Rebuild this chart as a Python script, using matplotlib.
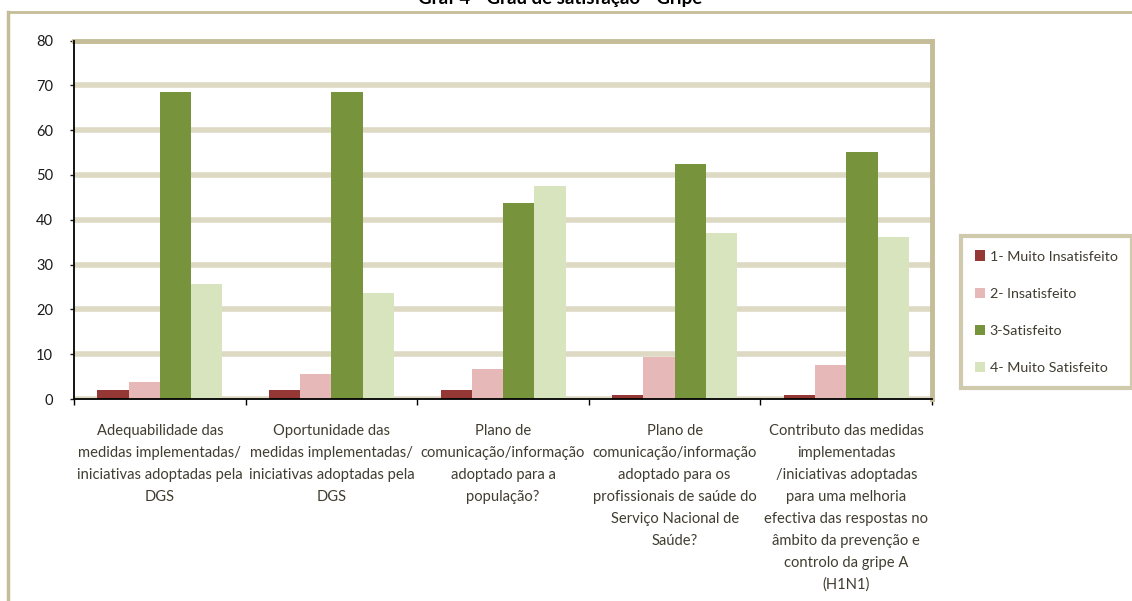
import matplotlib.pyplot as plt
import numpy as np
from matplotlib.lines import Line2D

plt.rcParams['font.family'] = ['Lato', 'DejaVu Sans']

# survey answers (%) per question
categorias = [
    'Adequabilidade das\nmedidas implementadas/\niniciativas adoptadas pela\nDGS',
    'Oportunidade das\nmedidas implementadas/\niniciativas adoptadas pela\nDGS',
    'Plano de\ncomunicação/informação\nadoptado para a\npopulação?',
    'Plano de\ncomunicação/informação\nadoptado para os\nprofissionais de saúde do\nServiço Nacional de\nSaúde?',
    'Contributo das medidas\nimplementadas\n/iniciativas adoptadas\npara uma melhoria\nefectiva das respostas no\nâmbito da prevenção e\ncontrolo da gripe A\n(H1N1)',
]
series = ['1- Muito Insatisfeito', '2- Insatisfeito', '3-Satisfeito', '4- Muito Satisfeito']
muito_insatisfeito = [1.9, 1.9, 1.9, 0.9, 0.9]
insatisfeito = [3.7, 5.6, 6.7, 9.4, 7.6]
satisfeito = [68.5, 68.5, 43.7, 52.4, 55.1]
muito_satisfeito = [25.6, 23.7, 47.5, 37.0, 36.1]
cores = ['#953735', '#e6b9b8', '#77933c', '#d7e4bd']

khaki = '#c4bd97'
grid_col = '#ddd9c3'
txt_col = '#403d30'

fig = plt.figure(figsize=(11.32, 6.01), dpi=100)
ax = fig.add_axes([0.0654, 0.3361, 0.758, 0.5965])

x = np.arange(len(categorias))
w = 0.182
valores = [muito_insatisfeito, insatisfeito, satisfeito, muito_satisfeito]
for i, (vals, nome, cor) in enumerate(zip(valores, series, cores)):
    ax.bar(x + (i - 1.5) * w, vals, w, color=cor, label=nome, zorder=3,
           edgecolor='none')

ax.set_xlim(-0.5, len(categorias) - 0.5)
ax.set_ylim(0, 80)
ax.set_yticks(range(0, 81, 10))
ax.yaxis.grid(True, color=grid_col, linewidth=4.0, zorder=0)
ax.set_axisbelow(True)

# category boundaries as ticks, labels at the centres
ax.set_xticks(np.arange(-0.5, len(categorias), 1))
ax.set_xticklabels([])
ax.tick_params(axis='x', which='major', direction='out', length=4, width=1, color='black')
ax.set_xticks(x, minor=True)
ax.set_xticklabels(categorias, minor=True, fontsize=10.6, color=txt_col, linespacing=1.72,
                   va='top')
ax.tick_params(axis='x', which='minor', length=0, pad=18)
ax.tick_params(axis='y', direction='out', length=3, width=1, pad=12, labelsize=10.5,
               colors='#1a1a1a')

for s in ['top', 'right']:
    ax.spines[s].set_color(khaki)
    ax.spines[s].set_linewidth(3.5)
ax.spines['left'].set_color('black')
ax.spines['left'].set_linewidth(1.3)
ax.spines['bottom'].set_color('black')
ax.spines['bottom'].set_linewidth(1.3)
ax.spines['left'].set_zorder(5)
ax.spines['bottom'].set_zorder(5)

# outer chart frame
fig.add_artist(Line2D([8 / 1132, 8 / 1132], [0, 1 - 12 / 601], color=khaki, lw=2.5,
                      transform=fig.transFigure))
fig.add_artist(Line2D([8 / 1132, 1], [1 - 12 / 601, 1 - 12 / 601], color=khaki, lw=2.0,
                      transform=fig.transFigure))

fig.text(0.495, 1 - 4 / 601, 'Graf 4 - Grau de satisfação - Gripe', ha='center',
         va='baseline', fontsize=13.5, fontweight='bold', color='black')

leg = fig.legend(loc='upper left', bbox_to_anchor=(0.849, 0.607), fontsize=10.3,
                 frameon=True, fancybox=False, handlelength=0.7, handleheight=0.7,
                 handletextpad=0.3, labelspacing=1.75, borderpad=1.0,
                 borderaxespad=0)
leg.get_frame().set_edgecolor(khaki)
leg.get_frame().set_linewidth(3)
for t in leg.get_texts():
    t.set_color(txt_col)

fig.savefig('out.png', dpi=100)
